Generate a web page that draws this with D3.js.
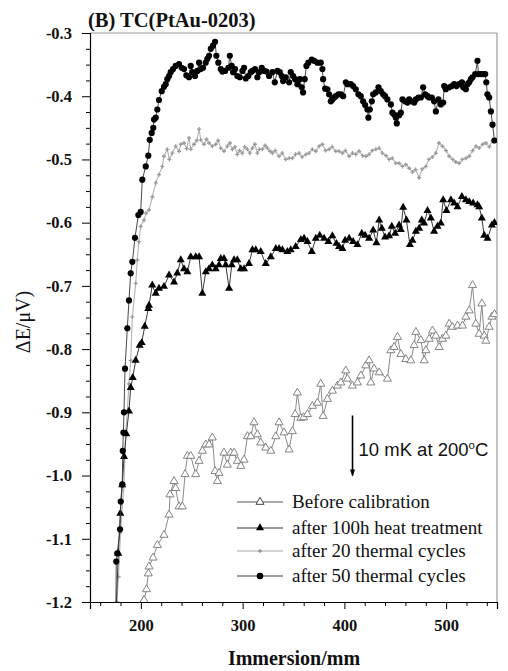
<!DOCTYPE html>
<html><head><meta charset="utf-8">
<script src="https://cdn.jsdelivr.net/npm/d3@7"></script>
<style>body{margin:0;background:#fff}svg{display:block}</style>
</head><body>
<svg id="c" width="508" height="671"></svg>
<script>
// ---------- DATA ----------
const titleText = "(B) TC(PtAu-0203)";
const xTicks = [200, 300, 400, 500];
const yTicks = [-0.3, -0.4, -0.5, -0.6, -0.7, -0.8, -0.9, -1.0, -1.1, -1.2];
const seriesNames = ["Before calibration", "after 100h heat treatment", "after 20 thermal cycles", "after 50 thermal cycles"];

// Before calibration (open triangles)
const beforeCal = [[202.0,-1.200],[203.1,-1.197],[205.5,-1.180],[207.3,-1.155],[208.0,-1.144],[212.0,-1.130],[216.2,-1.110],[222.7,-1.094],[227.7,-1.062],[228.6,-1.030],[232.6,-1.009],[234.2,-1.020],[237.5,-1.049],[240.7,-1.049],[243.4,-0.998],[245.7,-0.969],[249.0,-0.969],[253.9,-0.998],[257.2,-0.977],[260.4,-0.961],[263.8,-0.951],[267.0,-0.951],[270.2,-0.940],[272.9,-0.993],[275.2,-1.009],[276.8,-0.996],[281.7,-0.964],[285.0,-0.983],[288.3,-0.964],[291.6,-0.964],[294.8,-0.977],[298.2,-0.985],[301.4,-0.975],[304.7,-0.938],[308.0,-0.938],[311.2,-0.916],[314.5,-0.935],[317.8,-0.948],[322.7,-0.956],[327.7,-0.961],[332.6,-0.938],[335.8,-0.916],[340.7,-0.932],[345.7,-0.959],[348.9,-0.930],[351.6,-0.903],[353.8,-0.869],[357.2,-0.909],[360.0,-0.908],[363.7,-0.903],[368.6,-0.890],[373.5,-0.885],[376.8,-0.855],[379.1,-0.906],[383.3,-0.879],[388.2,-0.866],[393.2,-0.858],[396.5,-0.853],[401.4,-0.834],[403.0,-0.847],[407.9,-0.858],[412.8,-0.853],[416.2,-0.842],[421.1,-0.826],[424.3,-0.818],[426.0,-0.853],[429.2,-0.831],[434.2,-0.837],[442.3,-0.847],[445.7,-0.802],[448.9,-0.797],[452.2,-0.781],[455.5,-0.808],[460.4,-0.816],[465.3,-0.818],[468.6,-0.794],[470.3,-0.773],[475.2,-0.786],[478.4,-0.818],[480.1,-0.802],[483.3,-0.784],[486.6,-0.771],[489.9,-0.779],[493.2,-0.797],[496.4,-0.784],[499.7,-0.779],[503.0,-0.760],[506.2,-0.765],[511.2,-0.763],[516.1,-0.763],[519.4,-0.749],[522.7,-0.739],[526.0,-0.699],[529.2,-0.760],[532.5,-0.776],[535.1,-0.728],[537.4,-0.779],[539.1,-0.787],[542.3,-0.765],[545.0,-0.749],[547.5,-0.745]];

// after 100h heat treatment (filled triangles)
const heat100h = [[176.0,-1.200],[177.8,-1.123],[179.8,-1.060],[181.7,-1.015],[183.5,-0.970],[185.7,-0.934],[188.3,-0.898],[190.0,-0.861],[192.0,-0.845],[194.9,-0.818],[198.8,-0.794],[200.8,-0.790],[203.8,-0.764],[207.3,-0.736],[208.0,-0.731],[211.2,-0.699],[214.6,-0.712],[217.8,-0.704],[222.7,-0.701],[227.7,-0.683],[232.6,-0.694],[235.8,-0.680],[239.2,-0.659],[242.4,-0.673],[245.7,-0.678],[249.0,-0.654],[253.9,-0.654],[257.2,-0.654],[260.4,-0.712],[263.8,-0.678],[267.0,-0.673],[270.2,-0.667],[273.6,-0.673],[276.8,-0.667],[278.5,-0.657],[281.7,-0.657],[283.4,-0.667],[286.7,-0.704],[289.3,-0.667],[291.6,-0.659],[294.8,-0.659],[298.2,-0.673],[301.4,-0.673],[306.3,-0.665],[309.6,-0.643],[312.9,-0.643],[317.8,-0.646],[322.7,-0.665],[327.7,-0.654],[332.6,-0.641],[335.8,-0.641],[339.1,-0.643],[344.0,-0.646],[347.3,-0.643],[352.2,-0.638],[357.2,-0.627],[360.4,-0.625],[363.7,-0.630],[368.0,-0.646],[371.9,-0.625],[375.8,-0.620],[380.1,-0.625],[384.3,-0.630],[388.2,-0.621],[392.2,-0.633],[394.8,-0.638],[398.1,-0.641],[400.7,-0.628],[404.7,-0.625],[408.6,-0.630],[412.8,-0.635],[417.1,-0.617],[420.4,-0.620],[424.3,-0.625],[428.3,-0.612],[431.5,-0.632],[434.2,-0.596],[436.8,-0.609],[440.0,-0.623],[444.0,-0.621],[446.6,-0.606],[449.9,-0.617],[453.8,-0.604],[455.5,-0.611],[457.8,-0.576],[461.0,-0.596],[464.4,-0.635],[466.9,-0.628],[470.3,-0.614],[473.5,-0.609],[476.1,-0.596],[478.4,-0.601],[481.7,-0.581],[485.0,-0.593],[488.2,-0.614],[491.5,-0.606],[494.8,-0.601],[497.1,-0.564],[500.3,-0.581],[504.7,-0.564],[507.9,-0.569],[511.2,-0.575],[515.5,-0.559],[519.4,-0.564],[522.7,-0.567],[526.6,-0.569],[530.8,-0.572],[532.5,-0.575],[535.1,-0.593],[537.4,-0.620],[540.7,-0.625],[545.0,-0.604],[547.5,-0.600]];

// after 20 thermal cycles (small grey marks)
const cycles20 = [[176.5,-1.200],[178.0,-1.160],[180.0,-1.090],[183.4,-1.014],[185.0,-0.934],[186.7,-0.898],[188.3,-0.855],[190.0,-0.818],[191.6,-0.749],[194.9,-0.696],[196.5,-0.659],[198.0,-0.630],[199.8,-0.606],[203.1,-0.596],[205.0,-0.585],[208.0,-0.580],[211.3,-0.559],[214.6,-0.537],[217.8,-0.524],[221.1,-0.511],[222.7,-0.495],[226.0,-0.484],[228.0,-0.500],[230.9,-0.490],[234.2,-0.479],[237.5,-0.487],[239.2,-0.476],[242.4,-0.474],[245.0,-0.483],[247.3,-0.466],[249.0,-0.484],[252.3,-0.476],[255.0,-0.470],[257.2,-0.452],[258.8,-0.469],[262.1,-0.476],[264.5,-0.468],[267.0,-0.474],[270.2,-0.479],[273.6,-0.476],[276.0,-0.470],[278.5,-0.482],[281.7,-0.487],[285.0,-0.479],[287.5,-0.474],[289.9,-0.484],[292.5,-0.480],[294.8,-0.492],[297.0,-0.486],[299.8,-0.490],[302.0,-0.480],[304.7,-0.484],[307.0,-0.490],[309.6,-0.482],[312.0,-0.476],[314.5,-0.490],[316.5,-0.484],[319.4,-0.484],[322.0,-0.478],[324.3,-0.482],[327.0,-0.487],[329.3,-0.490],[332.0,-0.486],[335.8,-0.495],[339.0,-0.490],[342.4,-0.500],[345.7,-0.498],[348.9,-0.498],[352.0,-0.492],[355.5,-0.490],[358.5,-0.496],[362.1,-0.492],[365.3,-0.490],[368.5,-0.484],[371.9,-0.487],[375.2,-0.479],[378.4,-0.476],[381.5,-0.486],[385.0,-0.484],[388.0,-0.480],[391.6,-0.487],[394.8,-0.487],[398.1,-0.490],[401.0,-0.486],[404.7,-0.495],[408.0,-0.490],[411.2,-0.492],[414.5,-0.487],[418.0,-0.494],[421.1,-0.495],[424.3,-0.492],[427.5,-0.486],[430.9,-0.484],[434.2,-0.482],[437.4,-0.490],[441.0,-0.494],[444.0,-0.500],[447.0,-0.498],[450.6,-0.506],[453.8,-0.506],[457.1,-0.511],[460.5,-0.508],[463.7,-0.514],[467.0,-0.520],[470.0,-0.516],[473.5,-0.529],[476.5,-0.515],[480.0,-0.511],[483.0,-0.500],[486.5,-0.496],[489.9,-0.490],[493.0,-0.474],[496.4,-0.479],[500.0,-0.486],[503.0,-0.495],[506.5,-0.500],[509.5,-0.504],[512.8,-0.506],[516.0,-0.500],[519.5,-0.498],[522.7,-0.495],[526.0,-0.486],[529.3,-0.479],[532.5,-0.482],[536.0,-0.476],[539.1,-0.474],[542.5,-0.480],[545.6,-0.470],[548.0,-0.468]];

// after 50 thermal cycles (filled circles)
const cycles50 = [[175.5,-1.200],[175.8,-1.136],[176.8,-1.123],[179.5,-1.085],[180.2,-1.041],[181.7,-1.014],[182.2,-0.961],[182.8,-0.932],[183.4,-0.900],[184.4,-0.831],[186.7,-0.767],[188.3,-0.723],[190.0,-0.680],[191.6,-0.662],[194.2,-0.624],[197.5,-0.588],[199.8,-0.583],[201.4,-0.532],[204.8,-0.511],[207.3,-0.494],[208.7,-0.469],[210.6,-0.458],[212.2,-0.450],[212.9,-0.437],[214.6,-0.434],[216.2,-0.421],[217.8,-0.406],[220.5,-0.392],[222.7,-0.385],[224.4,-0.381],[226.0,-0.373],[227.7,-0.368],[229.3,-0.362],[231.6,-0.357],[234.2,-0.352],[237.5,-0.349],[240.1,-0.355],[242.4,-0.357],[244.7,-0.367],[247.3,-0.370],[249.0,-0.352],[250.6,-0.362],[253.2,-0.368],[255.5,-0.360],[257.2,-0.347],[258.8,-0.357],[261.1,-0.355],[263.7,-0.347],[265.3,-0.341],[267.0,-0.336],[268.7,-0.325],[270.9,-0.320],[272.9,-0.314],[274.2,-0.336],[276.1,-0.347],[278.5,-0.357],[280.1,-0.361],[282.7,-0.360],[286.0,-0.355],[287.4,-0.336],[289.3,-0.352],[290.6,-0.362],[292.6,-0.357],[294.8,-0.368],[297.2,-0.370],[299.8,-0.360],[301.4,-0.355],[303.1,-0.372],[305.6,-0.368],[308.0,-0.362],[309.6,-0.360],[312.2,-0.357],[314.5,-0.370],[316.2,-0.362],[318.8,-0.355],[321.1,-0.360],[323.4,-0.361],[326.0,-0.368],[329.3,-0.362],[331.6,-0.378],[334.2,-0.360],[336.5,-0.362],[338.5,-0.368],[339.8,-0.376],[342.4,-0.370],[345.7,-0.378],[347.3,-0.362],[349.6,-0.368],[351.6,-0.373],[353.8,-0.381],[356.2,-0.373],[358.1,-0.386],[359.4,-0.394],[361.0,-0.373],[362.7,-0.352],[364.6,-0.347],[368.0,-0.342],[370.2,-0.344],[373.5,-0.347],[376.8,-0.347],[378.4,-0.357],[379.1,-0.373],[381.1,-0.388],[383.3,-0.389],[385.0,-0.397],[386.7,-0.408],[388.2,-0.405],[389.9,-0.402],[391.6,-0.400],[394.1,-0.397],[396.5,-0.397],[398.8,-0.400],[401.4,-0.378],[403.0,-0.381],[406.3,-0.381],[408.6,-0.384],[411.2,-0.389],[413.8,-0.397],[416.1,-0.400],[418.4,-0.408],[420.4,-0.414],[422.7,-0.421],[423.6,-0.434],[425.0,-0.421],[427.0,-0.408],[428.3,-0.397],[430.9,-0.394],[433.5,-0.386],[435.8,-0.392],[438.1,-0.397],[440.0,-0.400],[442.3,-0.405],[445.7,-0.413],[447.2,-0.426],[448.9,-0.429],[450.6,-0.434],[451.5,-0.443],[453.8,-0.430],[455.5,-0.426],[457.1,-0.405],[459.7,-0.408],[462.0,-0.410],[463.7,-0.405],[466.3,-0.408],[468.6,-0.410],[470.3,-0.405],[472.8,-0.402],[475.2,-0.402],[477.4,-0.386],[479.4,-0.397],[481.7,-0.400],[483.3,-0.402],[486.0,-0.402],[488.2,-0.408],[489.9,-0.424],[492.5,-0.405],[494.8,-0.413],[497.1,-0.410],[498.1,-0.384],[499.7,-0.389],[503.0,-0.386],[505.6,-0.384],[507.9,-0.381],[510.2,-0.384],[512.8,-0.381],[515.5,-0.378],[516.8,-0.386],[519.4,-0.389],[521.0,-0.381],[522.7,-0.378],[524.3,-0.373],[525.9,-0.370],[528.6,-0.365],[530.8,-0.344],[531.8,-0.365],[534.1,-0.365],[536.4,-0.365],[538.4,-0.365],[539.5,-0.378],[540.6,-0.397],[542.3,-0.402],[544.0,-0.424],[545.6,-0.445],[547.5,-0.470]];

// scale-bar annotation (data units)
const scaleBarX = 408, scaleBarTop = -0.905, scaleBarBottom = -1.0;

// ---------- DRAW ----------
const svg = d3.select("#c");
svg.append("rect").attr("width",508).attr("height",671).attr("fill","#fff");
const x = d3.scaleLinear().domain([150,550]).range([90,497]);
const y = d3.scaleLinear().domain([-1.2,-0.3]).range([602,33]);
const serif = "'Liberation Serif','Times New Roman',serif";

svg.append("clipPath").attr("id","clip").append("rect")
  .attr("x",x(150)).attr("y",y(-0.3)-4).attr("width",x(550)-x(150)).attr("height",y(-1.2)-y(-0.3)+4);

// frame (top/right)
svg.append("line").attr("x1",x(150)).attr("x2",x(550)).attr("y1",y(-0.3)).attr("y2",y(-0.3)).attr("stroke","#9a9a9a").attr("stroke-width",1);
svg.append("line").attr("x1",x(550)).attr("x2",x(550)).attr("y1",y(-0.3)).attr("y2",y(-1.2)).attr("stroke","#9a9a9a").attr("stroke-width",1.2);

// axes
const xMinor = d3.range(160,551,20).filter(v=>!xTicks.includes(v));
svg.append("g").attr("transform",`translate(0,${y(-1.2)})`)
  .call(d3.axisBottom(x).tickValues(xMinor).tickSize(4).tickFormat(""))
  .call(g=>g.select(".domain").remove());
const gx = svg.append("g").attr("transform",`translate(0,${y(-1.2)})`)
  .call(d3.axisBottom(x).tickValues(xTicks).tickSizeOuter(0).tickSize(7).tickPadding(10).tickFormat(d3.format("d")));
gx.attr("font-family",null);
gx.selectAll("text").style("font-family",serif).style("font-weight","bold").style("font-size","16.5px").attr("fill","#111");

const yMinor = d3.range(0,37).map(i=>-0.3-i*0.025).filter(v=>Math.abs(Math.round(v*10)-v*10)>1e-6);
svg.append("g").attr("transform",`translate(${x(150)},0)`)
  .call(d3.axisLeft(y).tickValues(yMinor).tickSize(4).tickFormat(""))
  .call(g=>g.select(".domain").remove());
const gy = svg.append("g").attr("transform",`translate(${x(150)},0)`)
  .call(d3.axisLeft(y).tickValues(yTicks).tickSizeOuter(0).tickSize(8).tickPadding(10).tickFormat(d=>d.toFixed(1)));
gy.attr("font-family",null);
gy.selectAll("text").style("font-family",serif).style("font-weight","bold").style("font-size","16.5px").attr("fill","#111");
svg.selectAll(".domain").attr("stroke","#000").attr("stroke-width",1.2);

// titles
svg.append("text").attr("x",88).attr("y",27).style("font-family",serif).style("font-weight","bold").style("font-size","20.5px").attr("fill","#111").text(titleText);
svg.append("text").attr("x",294).attr("y",665).attr("text-anchor","middle").style("font-family",serif).style("font-weight","bold").style("font-size","20px").attr("fill","#111").text("Immersion/mm");
svg.append("text").attr("transform","translate(30,322) rotate(-90)").attr("text-anchor","middle").style("font-family",serif).style("font-size","20px").attr("fill","#111").text("\u0394E/\u03bcV)");

// series
const plot = svg.append("g").attr("clip-path","url(#clip)");
const line = d3.line().x(d=>x(d[0])).y(d=>y(d[1]));
const tri = d3.symbol().type(d3.symbolTriangle).size(28);
const cross = d3.symbol().type(d3.symbolCross).size(9);

// after 20 cycles
plot.append("path").datum(cycles20).attr("d",line).attr("fill","none").attr("stroke","#b4b4b4").attr("stroke-width",1.1);
plot.selectAll(".m20").data(cycles20).join("path").attr("d",cross)
  .attr("transform",d=>`translate(${x(d[0])},${y(d[1])})`).attr("fill","#9a9a9a");

// before calibration
plot.append("path").datum(beforeCal).attr("d",line).attr("fill","none").attr("stroke","#8a8a8a").attr("stroke-width",1);
plot.selectAll(".mb").data(beforeCal).join("path").attr("d",tri)
  .attr("transform",d=>`translate(${x(d[0])},${y(d[1])})`).attr("fill","#fff").attr("stroke","#777").attr("stroke-width",0.9);

// after 100h
plot.append("path").datum(heat100h).attr("d",line).attr("fill","none").attr("stroke","#222").attr("stroke-width",0.9);
plot.selectAll(".mh").data(heat100h.filter(d=>d[1]>-1.19)).join("path").attr("d",tri)
  .attr("transform",d=>`translate(${x(d[0])},${y(d[1])})`).attr("fill","#000");

// after 50 cycles
plot.append("path").datum(cycles50).attr("d",line).attr("fill","none").attr("stroke","#333").attr("stroke-width",0.9);
plot.selectAll(".m50").data(cycles50.filter(d=>d[1]>-1.19)).join("circle")
  .attr("cx",d=>x(d[0])).attr("cy",d=>y(d[1])).attr("r",3.1).attr("fill","#000");

// scale bar annotation
svg.append("line").attr("x1",x(scaleBarX)).attr("x2",x(scaleBarX)).attr("y1",y(scaleBarTop)).attr("y2",y(scaleBarBottom))
  .attr("stroke","#000").attr("stroke-width",1.6);
svg.append("path").attr("d",`M${x(scaleBarX)-2.5},${y(scaleBarBottom)-6} L${x(scaleBarX)},${y(scaleBarBottom)+1} L${x(scaleBarX)+2.5},${y(scaleBarBottom)-6} Z`).attr("fill","#000");
const ann = svg.append("text").attr("x",x(scaleBarX)+6).attr("y",456).style("font-family","'Liberation Sans',Arial,sans-serif").style("font-size","18.5px").attr("fill","#111");
ann.append("tspan").text("10 mK at 200");
ann.append("tspan").style("font-size","11.5px").attr("dy","-7.5").text("o");
ann.append("tspan").attr("dy","7.5").text("C");

// legend
const legY = [502, 528, 551, 576];
const lg = svg.append("g");
const lx1 = 237, lx2 = 283, lmx = 260, ltx = 292;
lg.append("line").attr("x1",lx1).attr("x2",lx2).attr("y1",legY[0]).attr("y2",legY[0]).attr("stroke","#555").attr("stroke-width",1);
lg.append("path").attr("d",tri).attr("transform",`translate(${lmx},${legY[0]})`).attr("fill","#fff").attr("stroke","#444").attr("stroke-width",1);
lg.append("line").attr("x1",lx1).attr("x2",lx2).attr("y1",legY[1]).attr("y2",legY[1]).attr("stroke","#777").attr("stroke-width",1.4);
lg.append("path").attr("d",tri).attr("transform",`translate(${lmx},${legY[1]})`).attr("fill","#000");
lg.append("line").attr("x1",lx1).attr("x2",lx2).attr("y1",legY[2]).attr("y2",legY[2]).attr("stroke","#aaa").attr("stroke-width",1.1);
lg.append("path").attr("d",cross).attr("transform",`translate(${lmx},${legY[2]})`).attr("fill","#999");
lg.append("line").attr("x1",lx1).attr("x2",lx2).attr("y1",legY[3]).attr("y2",legY[3]).attr("stroke","#444").attr("stroke-width",1);
lg.append("circle").attr("cx",lmx).attr("cy",legY[3]).attr("r",3.3).attr("fill","#000");
lg.selectAll("text.l").data(seriesNames).join("text").attr("class","l")
  .attr("x",ltx).attr("y",(d,i)=>legY[i]+6).style("font-family",serif).style("font-size","19px").attr("fill","#111").text(d=>d);
</script>
</body></html>
